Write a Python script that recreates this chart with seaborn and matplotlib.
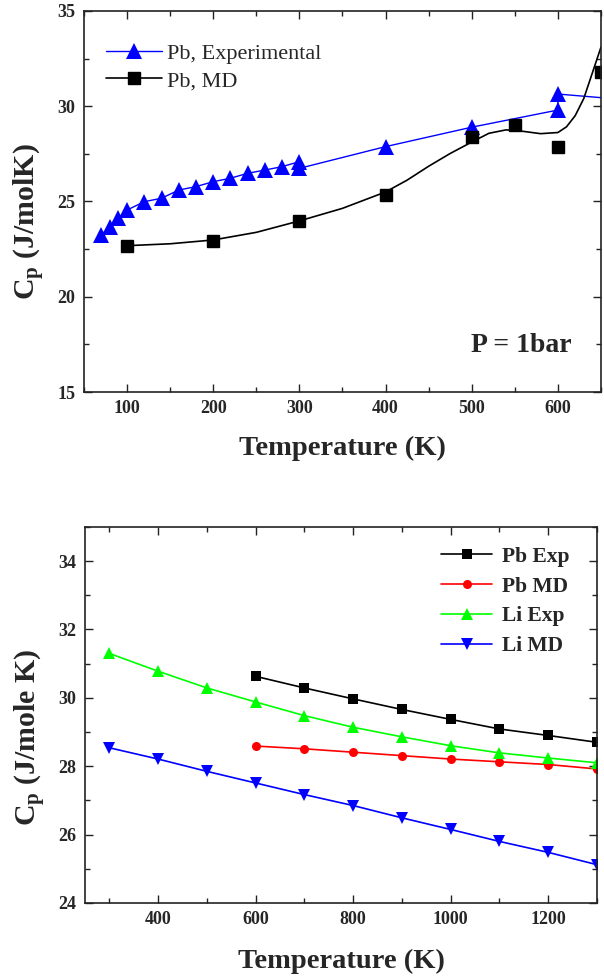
import matplotlib.pyplot as plt
import pandas as pd
import seaborn as sns
from matplotlib.lines import Line2D
from matplotlib.ticker import MultipleLocator

# ---- top panel: Pb, P = 1 bar ----
pb_exp_T = [70, 80, 90, 100, 120, 140, 160, 180, 200, 220, 240, 260, 280,
            300, 300, 400, 500, 600, 600, 700]
pb_exp_cp = [23.24, 23.68, 24.12, 24.55, 24.99, 25.17, 25.6, 25.78, 26.04,
             26.22, 26.48, 26.65, 26.83, 27.09, 26.74, 27.88, 28.9, 29.8,
             30.64, 30.26]
pb_md_T = [100, 200, 300, 400, 500, 550, 600, 650]
pb_md_cp = [22.65, 22.92, 23.95, 25.34, 28.4, 29.0, 27.88, 31.8]
# fitted curve through the MD points
fit_T = [100, 150, 200, 250, 300, 350, 400, 425, 450, 475, 500, 520, 540,
         560, 580, 600, 610, 620, 630, 640, 650]
fit_cp = [22.68, 22.78, 22.98, 23.38, 23.98, 24.64, 25.5, 26.12, 26.85,
          27.52, 28.12, 28.58, 28.76, 28.68, 28.56, 28.62, 28.92, 29.5, 30.4,
          31.75, 33.1]

# ---- bottom panel: Pb and Li ----
T_pb = [600, 700, 800, 900, 1000, 1100, 1200, 1300]
T_li = [300, 400, 500, 600, 700, 800, 900, 1000, 1100, 1200, 1300]
pb_exp = [30.63, 30.29, 29.97, 29.66, 29.37, 29.09, 28.9, 28.7]
pb_md = [28.59, 28.51, 28.41, 28.31, 28.21, 28.13, 28.05, 27.92]
li_exp = [31.3, 30.78, 30.29, 29.88, 29.48, 29.14, 28.86, 28.6, 28.39,
          28.24, 28.1]
li_md = [28.54, 28.21, 27.85, 27.51, 27.17, 26.85, 26.49, 26.15, 25.8,
         25.48, 25.12]

sns.set_theme(style='ticks')
plt.rcParams['font.family'] = ['Liberation Serif', 'DejaVu Serif']
plt.rcParams['font.weight'] = 'bold'
plt.rcParams['mathtext.fontset'] = 'custom'
plt.rcParams['mathtext.rm'] = 'Liberation Serif:bold'
plt.rcParams['mathtext.it'] = 'Liberation Serif:bold:italic'
plt.rcParams['mathtext.bf'] = 'Liberation Serif:bold'


def style_axes(ax, xmaj, xmin, ymaj, ymin):
    ax.xaxis.set_major_locator(MultipleLocator(xmaj))
    ax.xaxis.set_minor_locator(MultipleLocator(xmin))
    ax.yaxis.set_major_locator(MultipleLocator(ymaj))
    ax.yaxis.set_minor_locator(MultipleLocator(ymin))
    ax.tick_params(which='both', direction='in', top=True, right=True,
                   width=1.0, color='#222222', labelsize=13, pad=6)
    ax.tick_params(which='major', length=5.8)
    ax.tick_params(which='minor', length=3.5)
    for s in ax.spines.values():
        s.set_linewidth(1.2)
        s.set_color('#222222')
    for lab in ax.get_xticklabels() + ax.get_yticklabels():
        lab.set_fontweight('bold')


fig = plt.figure(figsize=(6.04, 9.8), dpi=100)
ax1 = fig.add_axes([0.139, 0.6, 0.856, 0.3888])
ax2 = fig.add_axes([0.1407, 0.0786, 0.8477, 0.3837])

# top panel
top_exp = pd.DataFrame({'T': pb_exp_T, 'Cp': pb_exp_cp})
top_md = pd.DataFrame({'T': pb_md_T, 'Cp': pb_md_cp})
top_fit = pd.DataFrame({'T': fit_T, 'Cp': fit_cp})

sns.lineplot(data=top_exp, x='T', y='Cp', ax=ax1, estimator=None, sort=False,
             color='#0000FF', lw=1.0, marker='^', markersize=11.5,
             markeredgewidth=0)
sns.lineplot(data=top_fit, x='T', y='Cp', ax=ax1, estimator=None,
             color='black', lw=1.2)
ax1.plot(top_md['T'], top_md['Cp'], ls='none', marker='s', markersize=8.5,
         color='black')

ax1.set_xlim(50, 650)
ax1.set_ylim(15, 35)
style_axes(ax1, 100, 50, 5, 2.5)
ax1.set_xlabel('Temperature (K)', fontsize=20.5, fontweight='bold')
ax1.set_ylabel(r'$\mathrm{C_p}$ (J/molK)', fontsize=21.5, fontweight='bold')
ax1.xaxis.set_label_coords(0.5, -0.115)
ax1.yaxis.set_label_coords(-0.072, 0.446)
ax1.text(0.845, 0.123, 'P = 1bar', transform=ax1.transAxes, ha='center',
         va='center', fontsize=20, fontweight='bold')

handles_top = [
    Line2D([], [], color='#0000FF', lw=1.0, marker='^', markersize=12,
           markeredgewidth=0),
    Line2D([], [], color='black', lw=1.2, marker='s', markersize=9),
]
ax1.legend(handles_top, ['Pb, Experimental', 'Pb, MD'], loc='upper left',
           bbox_to_anchor=(0.0426, 0.915), frameon=False,
           prop={'family': 'Liberation Serif', 'weight': 'normal', 'size': 16},
           handlelength=2.5, handletextpad=0.25, labelspacing=0.3,
           borderpad=0, borderaxespad=0)

# bottom panel
series = [
    ('Pb Exp', T_pb, pb_exp, 'black', 's', 6.5),
    ('Pb MD', T_pb, pb_md, '#FF0000', 'o', 6.5),
    ('Li Exp', T_li, li_exp, '#00FF00', '^', 8.5),
    ('Li MD', T_li, li_md, '#0000FF', 'v', 8.5),
]
for name, xs, ys, col, mk, ms in series:
    df = pd.DataFrame({'T': xs, 'Cp': ys})
    sns.lineplot(data=df, x='T', y='Cp', ax=ax2, estimator=None, color=col,
                 lw=1.2, marker=mk, markersize=ms, markeredgewidth=0,
                 label=name)

ax2.set_xlim(250, 1300)
ax2.set_ylim(24, 35)
style_axes(ax2, 200, 100, 2, 1)
ax2.set_xlabel('Temperature (K)', fontsize=20.5, fontweight='bold')
ax2.set_ylabel(r'$\mathrm{C_p}$ (J/mole K)', fontsize=21.5, fontweight='bold')
ax2.xaxis.set_label_coords(0.5, -0.122)
ax2.yaxis.set_label_coords(-0.072, 0.441)
ax2.legend(loc='upper left', bbox_to_anchor=(0.695, 0.947), frameon=False,
           prop={'family': 'Liberation Serif', 'weight': 'bold', 'size': 15.5},
           handlelength=2.4, handletextpad=0.45, labelspacing=0.45,
           borderpad=0, borderaxespad=0)

fig.savefig('out.png', dpi=100)
plt.close()
